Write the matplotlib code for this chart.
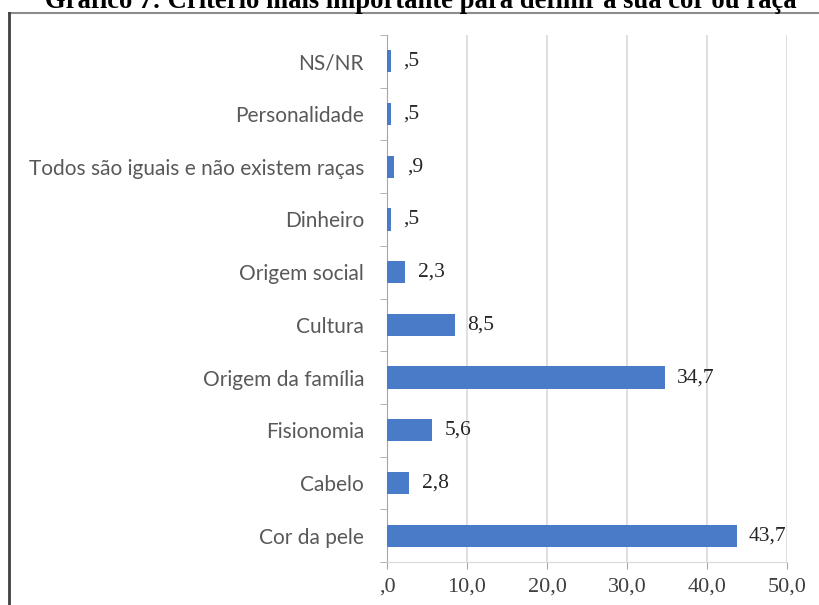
import matplotlib
matplotlib.use('Agg')
import matplotlib.pyplot as plt
from matplotlib.lines import Line2D

# data, bottom to top as drawn
categories = ['Cor da pele', 'Cabelo', 'Fisionomia', 'Origem da família', 'Cultura',
              'Origem social', 'Dinheiro', 'Todos são iguais e não existem raças',
              'Personalidade', 'NS/NR']
values = [43.7, 2.8, 5.6, 34.7, 8.5, 2.3, 0.5, 0.9, 0.5, 0.5]
xticks = [0, 10, 20, 30, 40, 50]
title = 'Gráfico 7: Critério mais importante para definir a sua cor ou raça'


def fmt(v):
    # portuguese style, leading zero dropped (",5")
    s = ('%.1f' % v).replace('.', ',')
    if s.startswith('0,'):
        s = s[1:]
    return s


W, H = 819, 605
fig = plt.figure(figsize=(W / 100, H / 100), dpi=100)
ax = fig.add_axes([387 / W, 1 - 562 / H, 400 / W, 527 / H])

pos = range(len(categories))
ax.barh(pos, values, height=0.42, color='#4a7bc8', zorder=3)
ax.set_ylim(-0.5, len(categories) - 0.5)
ax.set_xlim(0, 50)

for p, v in zip(pos, values):
    ax.annotate(fmt(v), (v, p), xytext=(9, 0), textcoords='offset points',
                va='center', ha='left', fontsize=15.5, family='Liberation Serif',
                color='#262626')

ax.set_xticks(xticks)
ax.set_xticklabels([fmt(t) for t in xticks], family='Liberation Serif',
                   fontsize=16, color='#404040')
ax.set_yticks(list(pos))
ax.set_yticklabels(categories, family='Lato', fontsize=15, color='#595959')
ax.set_yticks([i - 0.5 for i in range(len(categories) + 1)], minor=True)

ax.tick_params(axis='y', which='major', length=0, pad=16.5)
ax.tick_params(axis='y', which='minor', length=5, color='#a6a6a6', direction='out')
ax.tick_params(axis='x', length=5, color='#a6a6a6', pad=6)

ax.grid(axis='x', color='#d9d9d9', linewidth=1.2, zorder=0)
for s in ['top', 'right']:
    ax.spines[s].set_visible(False)
ax.spines['left'].set_color('#a6a6a6')
ax.spines['bottom'].set_color('#d9d9d9')

# title, partly cut off at the top like in the scan
fig.text(421 / W, 1 - 8 / H, title, ha='center', va='baseline',
         family='Liberation Serif', weight='bold', fontsize=19.2, color='black')

# frame of the pasted chart (right and bottom run off the page)
fig.add_artist(Line2D([9 / W, 1], [1 - 13 / H, 1 - 13 / H], color='#8c8c8c', lw=1.5))
fig.add_artist(Line2D([9 / W, 9 / W], [0, 1 - 13 / H], color='#404040', lw=2))

fig.savefig('out.png', dpi=100, facecolor='white')
